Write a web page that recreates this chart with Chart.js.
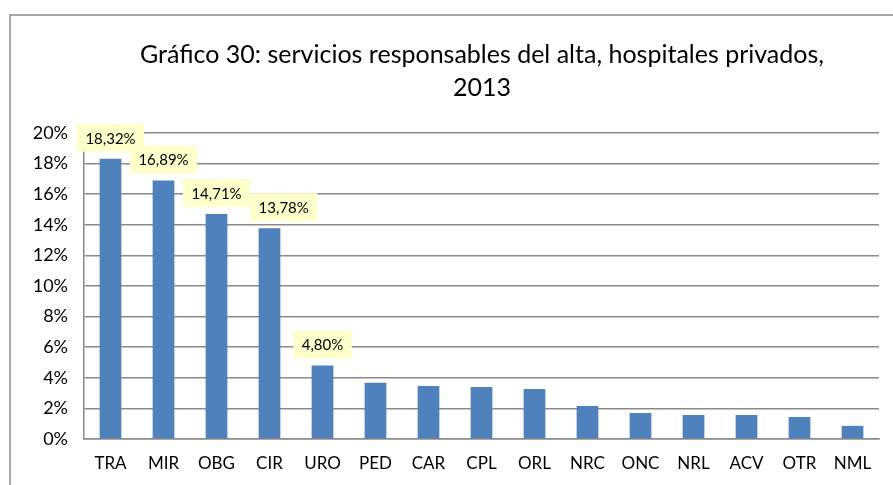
<!DOCTYPE html>
<html>
<head>
<meta charset="utf-8">
<script src="https://cdn.jsdelivr.net/npm/chart.js@4.4.1/dist/chart.umd.min.js"></script>
<style>
  html, body { margin: 0; padding: 0; background: #ffffff; }
  #wrap { width: 893px; height: 485px; position: relative; }
</style>
</head>
<body>
<div id="wrap"><canvas id="c" width="893" height="485"></canvas></div>
<script>
// ---- data ----
const categories = ['TRA', 'MIR', 'OBG', 'CIR', 'URO', 'PED', 'CAR', 'CPL', 'ORL', 'NRC', 'ONC', 'NRL', 'ACV', 'OTR', 'NML'];
const values = [18.32, 16.89, 14.71, 13.78, 4.80, 3.68, 3.46, 3.40, 3.27, 2.16, 1.70, 1.57, 1.57, 1.44, 0.86];
const labeledCategories = ['TRA', 'MIR', 'OBG', 'CIR', 'URO'];
const titleLines = ['Gráfico 30: servicios responsables del alta, hospitales privados,', '2013'];
const yMin = 0, yMax = 20, yStep = 2;

const FONT = 'Lato, "Open Sans", sans-serif';

const framePlugin = {
  id: 'frame',
  beforeDraw(chart) {
    const ctx = chart.ctx;
    ctx.save();
    ctx.fillStyle = '#ffffff';
    ctx.fillRect(0, 0, chart.width, chart.height);
    ctx.strokeStyle = '#8c8c8c';
    ctx.lineWidth = 1.5;
    ctx.beginPath();
    ctx.moveTo(10, chart.height);
    ctx.lineTo(10, 15);
    ctx.lineTo(chart.width, 15);
    ctx.stroke();
    ctx.restore();
  }
};

const titlePlugin = {
  id: 'customTitle',
  afterDraw(chart) {
    const ctx = chart.ctx;
    ctx.save();
    ctx.fillStyle = '#000000';
    ctx.font = '25px ' + FONT;
    ctx.textAlign = 'center';
    ctx.textBaseline = 'alphabetic';
    const cx = 482;
    ctx.fillText(titleLines[0], cx, 63);
    ctx.fillText(titleLines[1], cx, 96);
    ctx.restore();
  }
};

const labelPlugin = {
  id: 'valueBoxes',
  afterDatasetsDraw(chart) {
    const ctx = chart.ctx;
    const meta = chart.getDatasetMeta(0);
    ctx.save();
    ctx.font = '15px ' + FONT;
    ctx.textAlign = 'center';
    ctx.textBaseline = 'middle';
    const padX = 8.5, h = 28, gap = 7, textH = 15;
    const boxes = [];
    let prev = null;
    categories.forEach((cat, i) => {
      if (!labeledCategories.includes(cat)) return;
      const bar = meta.data[i];
      const txt = values[i].toFixed(2).replace('.', ',') + '%';
      const tw = ctx.measureText(txt).width;
      const w = tw + 2 * padX;
      let left = bar.x - w / 2;
      const top = bar.y - gap - h;
      const tTop = top + (h - textH) / 2, tBot = tTop + textH;
      if (prev && left < prev.right && tTop < prev.tBot && tBot > prev.tTop) {
        left = prev.right;
      }
      const b = { txt, left, top, w, right: left + w, tTop, tBot };
      boxes.push(b);
      prev = b;
    });
    for (let k = boxes.length - 1; k >= 0; k--) {
      const b = boxes[k];
      ctx.fillStyle = '#FFFFCC';
      ctx.fillRect(b.left, b.top, b.w, h);
      ctx.fillStyle = '#000000';
      ctx.fillText(b.txt, b.left + b.w / 2, b.top + h / 2 + 1);
    }
    ctx.restore();
  }
};

new Chart(document.getElementById('c'), {
  type: 'bar',
  data: {
    labels: categories,
    datasets: [{
      data: values,
      backgroundColor: '#4F81BD',
      barPercentage: 0.41,
      categoryPercentage: 1.0
    }]
  },
  options: {
    responsive: false,
    animation: false,
    devicePixelRatio: 1,
    layout: { padding: { top: 133, right: 14, left: 0, bottom: 0 } },
    plugins: { legend: { display: false }, tooltip: { enabled: false }, title: { display: false } },
    scales: {
      y: {
        min: yMin, max: yMax,
        ticks: {
          stepSize: yStep,
          callback: v => v + '%',
          color: '#000000',
          font: { family: FONT, size: 18 },
          padding: 16
        },
        grid: { color: '#8a8a8a', lineWidth: 1.5, drawTicks: false },
        border: { color: '#8a8a8a', width: 1.5 },
        afterFit(scale) { scale.width = 84; }
      },
      x: {
        ticks: {
          color: '#000000',
          font: { family: FONT, size: 17 },
          padding: 14,
          maxRotation: 0, autoSkip: false
        },
        grid: { display: false, drawTicks: false },
        border: { color: '#8a8a8a', width: 1.5 },
        afterFit(scale) { scale.height = 46; }
      }
    }
  },
  plugins: [framePlugin, labelPlugin, titlePlugin]
});
</script>
</body>
</html>
